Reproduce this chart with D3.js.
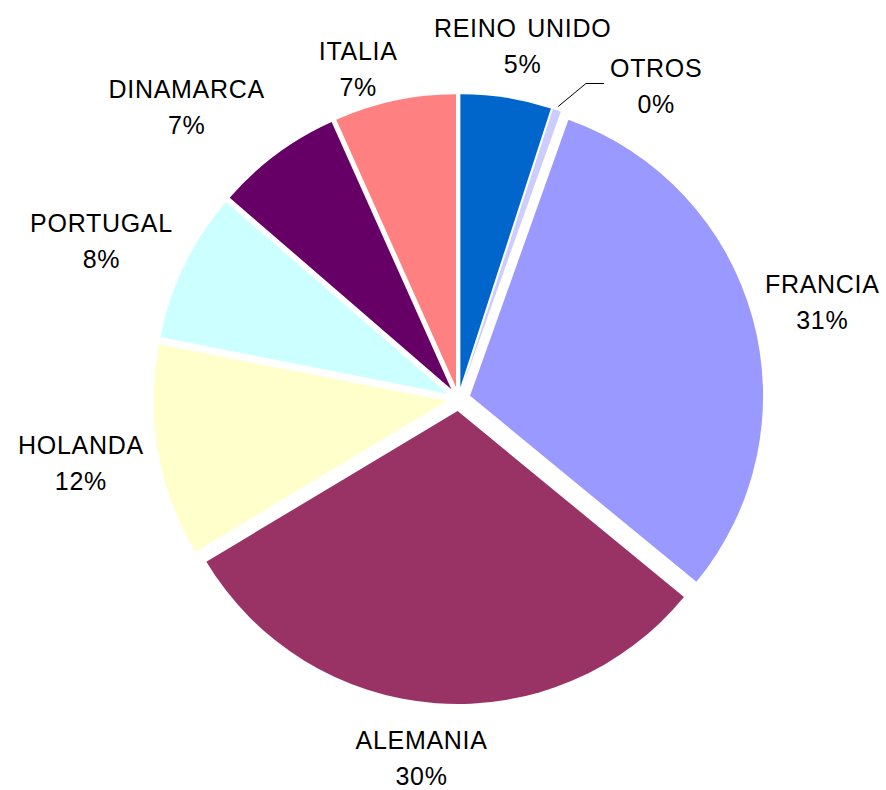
<!DOCTYPE html>
<html>
<head>
<meta charset="utf-8">
<script src="https://cdnjs.cloudflare.com/ajax/libs/d3/7.8.5/d3.min.js"></script>
<style>
    html, body { margin: 0; padding: 0; background: #ffffff; }
    #pie-chart text {
        font-family: "Liberation Sans", Arial, sans-serif;
        font-size: 25px;
        letter-spacing: 0.7px;
        word-spacing: 3px;
        fill: #000000;
    }
</style>
</head>
<body>
<svg id="pie-chart"></svg>
<script>
// data, clockwise from 12 o'clock
var countries = ["REINO UNIDO", "OTROS", "FRANCIA", "ALEMANIA", "HOLANDA", "PORTUGAL", "DINAMARCA", "ITALIA"];
var shares = [5.0, 0.45, 30.5, 30.45, 11.7, 8.25, 6.95, 6.7];
var colors = ["#0066cc", "#ccccff", "#9999ff", "#993366", "#ffffcc", "#ccffff", "#660066", "#ff8080"];

// label nudges (px) from the label ring, per slice
var labelNudge = {
    "REINO UNIDO": [7, 8],
    "OTROS": [80, 33],
    "FRANCIA": [12, 0],
    "ALEMANIA": [-10, -5],
    "HOLANDA": [-18, 1],
    "PORTUGAL": [-29, 2],
    "DINAMARCA": [-54, 1],
    "ITALIA": [-24, 27]
};

var width = 886;
var height = 790;
var cx = 458.5;
var cy = 399;
var radius = 293;
var explode = 12;
var labelRadius = 365;
var lineGap = 36;

var svg = d3.select("#pie-chart")
    .attr("width", width)
    .attr("height", height);

svg.append("rect")
    .attr("width", width)
    .attr("height", height)
    .attr("fill", "#ffffff");

var slices = countries.map(function (name, i) {
    return { name: name, value: shares[i], color: colors[i] };
});

var pie = d3.pie()
    .value(function (d) { return d.value; })
    .sort(null);

var arcs = pie(slices);

var arc = d3.arc()
    .innerRadius(0)
    .outerRadius(radius);

var labelArc = d3.arc()
    .innerRadius(labelRadius)
    .outerRadius(labelRadius);

function midAngle(d) {
    return (d.startAngle + d.endAngle) / 2;
}

function offset(d) {
    var a = midAngle(d);
    return [explode * Math.sin(a), -explode * Math.cos(a)];
}

var g = svg.append("g")
    .attr("transform", "translate(" + cx + "," + cy + ")");

g.append("g")
    .attr("class", "slices")
    .selectAll("path")
    .data(arcs)
    .enter().append("path")
    .attr("d", arc)
    .attr("fill", function (d) { return d.data.color; })
    .attr("transform", function (d) {
        var o = offset(d);
        return "translate(" + o[0] + "," + o[1] + ")";
    });

var labels = g.append("g")
    .attr("class", "labels")
    .selectAll("g")
    .data(arcs)
    .enter().append("g")
    .attr("transform", function (d) {
        var c = labelArc.centroid(d);
        var n = labelNudge[d.data.name];
        return "translate(" + (c[0] + n[0]) + "," + (c[1] + n[1]) + ")";
    });

labels.append("text")
    .attr("text-anchor", "middle")
    .attr("y", -9)
    .text(function (d) { return d.data.name; });

labels.append("text")
    .attr("text-anchor", "middle")
    .attr("y", -9 + lineGap)
    .text(function (d) { return Math.round(d.data.value) + "%"; });

// leader line for the tiny slice
arcs.forEach(function (d) {
    if (d.data.name !== "OTROS") return;
    var a = midAngle(d);
    var o = offset(d);
    var start = [o[0] + (radius + 4) * Math.sin(a), o[1] - (radius + 4) * Math.cos(a)];
    var c = labelArc.centroid(d);
    var n = labelNudge[d.data.name];
    var label = labels.filter(function (e) { return e === d; }).select("text").node();
    var halfWidth = label.getComputedTextLength() / 2;
    var end = [c[0] + n[0] - halfWidth - 6, c[1] + n[1] - 3];
    var elbow = [end[0] - 18, end[1]];
    g.append("path")
        .attr("d", d3.line()([start, elbow, end]))
        .attr("fill", "none")
        .attr("stroke", "#000000")
        .attr("stroke-width", 1);
});
</script>
</body>
</html>
